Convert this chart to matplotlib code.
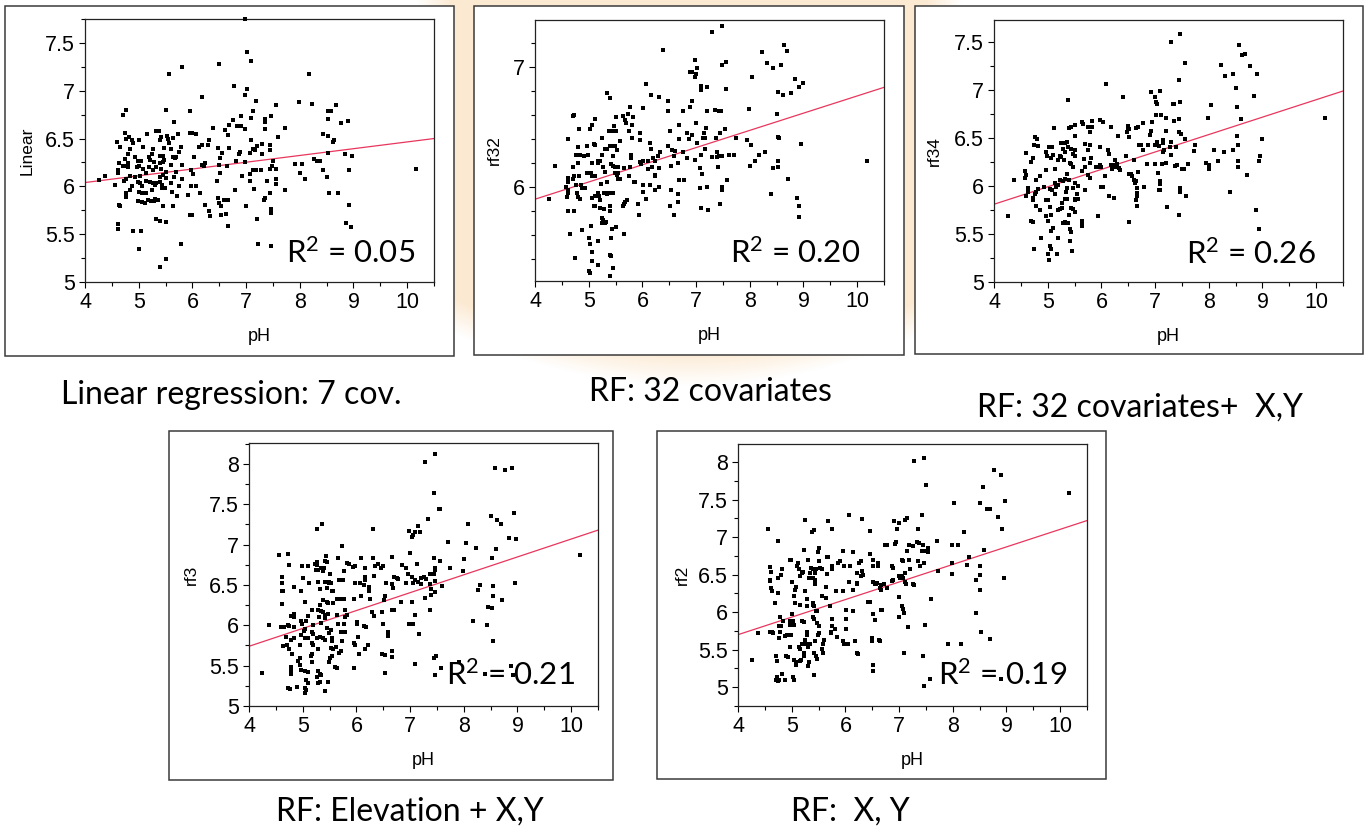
import numpy as np
import matplotlib.pyplot as plt
from matplotlib.ticker import MultipleLocator, FormatStrFormatter
from matplotlib.patches import Rectangle

W, H = 1366, 831

# (pH, predicted pH) pairs for each model
linear_pts = [(10.16,6.18),(8.98,6.32),(8.92,6.17),(8.92,5.81),(8.86,5.62),(8.95,5.57),(8.89,6.68),(8.84,6.34),(8.76,6.66),(8.68,6.85),(8.52,6.79),(8.58,6.79),(8.52,6.70),(8.52,6.53),(8.44,6.55),(8.61,6.46),(8.63,6.48),(8.52,6.35),(8.44,6.17),(8.50,6.10),(8.55,5.93),(8.71,5.93),(8.27,6.29),(8.33,6.27),(8.38,6.26),(8.22,6.86),(8.17,7.17),(7.98,6.88),(7.92,6.23),(8.04,6.23),(8.01,6.14),(8.09,6.08),(7.72,6.61),(7.73,5.96),(7.60,6.52),(7.55,6.85),(7.47,6.74),(7.36,6.70),(7.36,6.67),(7.36,6.60),(7.44,6.43),(7.44,6.38),(7.51,6.26),(7.48,6.21),(7.45,6.18),(7.55,6.18),(7.56,6.08),(7.55,6.02),(7.39,6.06),(7.44,5.93),(7.36,5.88),(7.33,5.86),(7.47,5.76),(7.47,5.72),(7.47,5.38),(7.22,5.40),(7.20,5.66),(7.29,6.44),(7.29,6.34),(7.20,6.42),(7.13,6.17),(7.19,6.17),(7.28,6.17),(7.19,6.89),(7.13,6.79),(7.10,6.72),(7.10,6.49),(7.13,6.39),(7.08,6.35),(7.16,6.38),(7.08,6.13),(7.07,6.06),(7.15,5.97),(7.01,7.40),(7.10,7.31),(6.98,7.75),(7.02,7.02),(6.98,6.96),(6.98,6.60),(6.91,6.74),(6.84,6.63),(6.91,6.63),(6.89,6.36),(6.86,6.34),(6.98,6.25),(6.93,6.11),(7.00,5.79),(6.77,7.05),(6.76,6.69),(6.68,6.64),(6.61,6.59),(6.66,6.54),(6.68,6.40),(6.56,6.35),(6.82,6.26),(6.65,6.21),(6.80,5.96),(6.59,5.86),(6.66,5.86),(6.63,5.71),(6.66,5.59),(6.49,7.28),(6.39,6.61),(6.48,6.40),(6.52,6.30),(6.50,6.22),(6.52,6.14),(6.45,6.06),(6.48,5.88),(6.50,5.83),(6.53,5.79),(6.53,5.70),(6.31,6.49),(6.29,6.43),(6.24,6.24),(6.17,6.22),(6.22,6.21),(6.23,5.81),(6.31,5.74),(6.32,5.69),(6.15,5.93),(6.17,6.93),(6.17,6.43),(6.12,6.41),(6.07,6.55),(6.00,6.56),(5.95,6.56),(6.03,6.31),(5.97,6.17),(6.01,6.13),(5.98,6.00),(6.07,6.00),(5.95,5.70),(6.00,5.70),(5.95,6.79),(5.81,7.25),(5.74,6.55),(5.78,6.41),(5.76,6.36),(5.70,6.31),(5.80,6.22),(5.81,6.08),(5.76,6.00),(5.92,5.91),(5.72,5.90),(5.78,5.40),(5.57,7.17),(5.50,6.80),(5.66,6.67),(5.55,6.50),(5.63,6.51),(5.52,6.53),(5.56,6.45),(5.60,6.39),(5.63,6.31),(5.67,6.30),(5.61,6.22),(5.69,6.15),(5.66,6.10),(5.61,6.03),(5.62,5.94),(5.64,5.79),(5.46,5.79),(5.50,5.63),(5.50,5.24),(5.39,5.16),(5.38,6.58),(5.32,6.58),(5.41,6.52),(5.39,6.48),(5.47,6.40),(5.39,6.32),(5.45,6.32),(5.48,6.28),(5.39,6.24),(5.46,6.25),(5.41,6.18),(5.50,6.15),(5.39,6.10),(5.46,6.12),(5.50,6.09),(5.39,6.05),(5.43,6.01),(5.49,5.98),(5.44,5.98),(5.33,6.03),(5.30,5.87),(5.36,5.86),(5.29,5.85),(5.33,5.66),(5.39,5.64),(5.27,6.39),(5.24,6.34),(5.19,6.31),(5.21,6.28),(5.28,6.25),(5.33,6.20),(5.20,6.20),(5.26,6.17),(5.21,6.05),(5.27,6.04),(5.31,6.01),(5.24,5.96),(5.18,5.86),(5.23,5.85),(5.16,6.55),(5.08,6.41),(5.05,6.27),(5.08,6.18),(5.13,6.14),(5.13,6.06),(5.07,6.00),(5.07,5.93),(5.13,5.93),(5.07,5.84),(5.11,5.83),(5.04,5.53),(5.01,5.34),(4.98,5.85),(5.01,5.94),(4.93,6.31),(4.98,6.27),(5.01,6.21),(4.96,6.20),(5.02,6.11),(4.93,6.10),(4.99,6.05),(5.02,6.03),(5.01,6.49),(4.90,6.45),(4.87,6.00),(4.89,5.53),(4.82,6.52),(4.87,6.48),(4.84,6.39),(4.80,6.34),(4.80,6.24),(4.80,6.20),(4.84,6.11),(4.77,6.80),(4.70,6.75),(4.74,6.56),(4.76,6.50),(4.74,6.29),(4.70,6.21),(4.77,6.21),(4.72,6.06),(4.77,6.08),(4.77,5.93),(4.76,5.89),(4.84,5.96),(4.65,6.41),(4.59,6.46),(4.63,6.24),(4.62,6.17),(4.62,6.14),(4.56,6.01),(4.63,5.81),(4.66,5.79),(4.61,5.61),(4.61,5.55),(4.37,6.11),(4.26,6.07)]

rf32_pts = [(10.18,6.22),(8.96,6.36),(8.99,6.87),(8.91,6.83),(8.84,6.90),(8.92,5.84),(8.92,5.75),(8.88,5.91),(8.72,6.07),(8.77,6.78),(8.63,7.18),(8.69,7.13),(8.58,7.02),(8.61,6.77),(8.52,6.79),(8.50,6.61),(8.53,6.42),(8.55,6.41),(8.52,6.22),(8.53,6.17),(8.44,6.16),(8.44,6.99),(8.32,7.03),(8.23,7.12),(8.29,6.29),(8.18,6.27),(8.10,6.22),(8.01,6.18),(8.02,6.35),(7.94,6.39),(7.99,6.65),(8.04,6.92),(8.39,5.94),(7.75,6.41),(7.71,6.27),(7.62,6.27),(7.57,6.06),(7.56,6.82),(7.55,7.04),(7.48,7.02),(7.48,7.34),(7.29,7.29),(7.53,6.48),(7.45,6.45),(7.46,6.63),(7.35,6.64),(7.43,6.63),(7.37,6.41),(7.39,6.29),(7.39,6.25),(7.48,6.26),(7.43,6.26),(7.41,6.17),(7.29,6.25),(7.48,6.00),(7.48,5.98),(7.45,5.86),(7.21,6.83),(7.09,6.84),(7.09,6.81),(7.20,6.63),(7.18,6.49),(7.14,6.45),(7.12,6.41),(7.17,6.41),(7.09,6.27),(7.16,6.32),(7.07,6.16),(7.11,6.11),(7.07,5.99),(7.21,6.00),(7.09,5.83),(7.23,5.81),(6.98,7.06),(7.01,6.99),(7.00,6.94),(6.98,6.92),(6.89,6.96),(6.92,6.96),(6.93,6.72),(6.89,6.67),(7.00,6.53),(6.93,6.43),(7.01,6.37),(6.98,6.23),(6.83,6.45),(6.86,6.40),(6.83,6.24),(6.75,6.63),(6.69,6.52),(6.68,6.40),(6.75,6.29),(6.67,6.20),(6.69,6.06),(6.78,6.06),(6.66,5.94),(6.66,5.88),(6.58,5.77),(6.52,5.84),(6.53,5.98),(6.48,6.72),(6.48,6.63),(6.52,6.47),(6.47,6.34),(6.55,6.31),(6.61,6.30),(6.58,6.26),(6.53,6.18),(6.39,7.14),(6.31,6.75),(6.16,6.77),(6.07,6.86),(6.01,6.66),(5.96,6.45),(5.96,6.39),(6.14,6.37),(6.16,6.32),(6.33,6.29),(6.29,6.26),(6.20,6.24),(6.24,6.22),(6.11,6.22),(6.02,6.22),(5.96,6.21),(5.98,6.19),(6.11,6.15),(6.17,6.17),(6.31,6.16),(6.24,6.10),(6.24,6.09),(6.14,6.02),(6.02,6.02),(6.02,5.96),(6.24,5.98),(6.31,6.00),(6.07,5.90),(5.91,5.86),(5.94,5.77),(5.85,6.04),(5.77,6.67),(5.73,6.61),(5.82,6.58),(5.70,6.53),(5.80,6.52),(5.75,6.47),(5.80,6.41),(5.63,6.59),(5.51,6.58),(5.68,6.56),(5.47,6.51),(5.45,6.47),(5.50,6.47),(5.35,6.78),(5.40,6.74),(5.37,6.47),(5.58,6.38),(5.40,6.34),(5.44,6.34),(5.30,6.32),(5.35,6.32),(5.49,6.34),(5.52,6.31),(5.78,6.27),(5.78,6.24),(5.46,6.26),(5.77,6.17),(5.75,6.09),(5.86,6.04),(5.65,6.16),(5.42,6.19),(5.46,6.18),(5.49,6.17),(5.52,6.17),(5.55,6.17),(5.49,6.12),(5.55,6.12),(5.52,6.10),(5.58,6.07),(5.54,6.07),(5.30,6.13),(5.27,6.17),(5.21,6.22),(5.25,6.27),(5.25,6.41),(5.34,6.04),(5.18,6.20),(5.17,6.22),(5.29,5.95),(5.33,5.95),(5.35,5.94),(5.40,5.95),(5.46,5.95),(5.23,6.03),(5.19,5.93),(5.21,5.89),(5.18,5.95),(5.12,5.84),(5.21,5.83),(5.29,5.82),(5.40,5.84),(5.39,5.80),(5.25,5.74),(5.27,5.73),(5.30,5.70),(5.25,5.70),(5.32,5.71),(5.63,5.84),(5.66,5.86),(5.71,5.89),(5.68,5.88),(5.44,5.65),(5.50,5.67),(5.42,5.58),(5.65,5.61),(5.18,5.55),(5.04,5.68),(4.88,5.64),(5.00,5.58),(5.03,5.53),(5.07,5.46),(5.07,5.39),(5.18,5.35),(5.00,5.30),(5.03,5.29),(5.40,5.44),(5.42,5.43),(5.45,5.33),(5.40,5.26),(4.75,5.41),(4.66,5.61),(5.09,5.84),(5.11,5.93),(5.07,5.91),(5.12,6.09),(5.07,6.09),(5.04,6.12),(5.06,6.20),(5.11,6.35),(5.09,6.36),(5.11,6.57),(5.07,6.52),(5.02,6.48),(4.92,6.26),(4.98,6.27),(4.96,6.34),(4.96,6.12),(4.86,6.02),(4.87,5.99),(4.93,5.99),(4.82,6.48),(4.81,6.33),(4.84,6.27),(4.80,6.20),(4.76,6.27),(4.71,6.17),(4.73,6.09),(4.71,6.07),(4.82,6.09),(4.78,5.95),(4.81,5.92),(4.84,5.90),(4.76,6.02),(4.73,6.60),(4.70,6.59),(4.61,6.40),(4.61,6.08),(4.62,6.04),(4.57,6.00),(4.62,5.98),(4.59,5.92),(4.62,5.95),(4.62,5.80),(4.73,5.80),(4.37,6.18),(4.26,5.90)]

rf34_pts = [(10.17,6.71),(8.99,6.49),(8.96,6.31),(8.93,6.26),(8.93,5.55),(8.88,5.75),(8.90,7.17),(8.85,6.94),(8.77,7.25),(8.71,6.11),(8.68,7.38),(8.62,7.37),(8.57,7.47),(8.60,6.70),(8.55,6.43),(8.52,6.52),(8.53,6.82),(8.51,7.02),(8.45,6.38),(8.54,6.26),(8.54,6.20),(8.45,7.17),(8.31,7.15),(8.23,7.26),(8.28,6.35),(8.17,6.26),(8.09,6.38),(8.04,6.84),(7.98,6.71),(8.01,6.22),(8.01,6.18),(7.94,6.24),(8.39,5.94),(7.75,6.43),(7.72,6.37),(7.61,6.23),(7.58,5.90),(7.55,7.28),(7.47,7.58),(7.29,7.50),(7.45,7.10),(7.47,6.88),(7.36,6.85),(7.33,6.85),(7.45,6.70),(7.36,6.68),(7.45,6.56),(7.48,6.54),(7.55,6.49),(7.39,6.41),(7.30,6.46),(7.30,6.32),(7.38,6.21),(7.41,6.22),(7.50,6.18),(7.54,6.18),(7.47,5.98),(7.47,5.94),(7.44,5.70),(7.23,5.78),(7.21,6.71),(7.11,6.74),(7.02,6.74),(7.10,6.99),(6.92,6.98),(7.00,6.93),(7.02,6.88),(7.04,6.85),(6.95,6.67),(7.21,6.57),(7.15,6.48),(7.15,6.45),(7.04,6.46),(7.08,6.42),(6.99,6.43),(7.17,6.38),(7.15,6.35),(7.27,6.41),(7.12,6.23),(6.99,6.23),(6.85,6.23),(7.20,6.24),(7.06,6.14),(7.10,6.05),(7.10,6.02),(7.07,5.96),(7.10,5.96),(6.80,5.99),(6.93,6.57),(6.90,6.53),(6.87,6.43),(6.77,6.66),(6.68,6.61),(6.70,6.43),(6.73,6.43),(6.77,6.38),(6.68,6.15),(6.61,6.27),(6.65,6.05),(6.62,6.03),(6.67,5.98),(6.66,5.93),(6.66,5.90),(6.64,5.85),(6.66,5.79),(6.56,6.13),(6.51,6.13),(6.57,6.10),(6.60,6.06),(6.49,6.63),(6.49,6.60),(6.52,6.59),(6.48,6.56),(6.51,6.51),(6.45,6.31),(6.65,6.60),(6.51,5.63),(6.40,6.93),(6.31,6.52),(6.25,6.27),(6.28,6.20),(6.32,6.19),(6.34,6.17),(6.20,6.18),(6.17,6.22),(6.25,6.22),(6.30,6.23),(6.15,6.33),(6.12,6.38),(6.18,6.62),(6.08,7.06),(6.06,6.10),(6.15,5.90),(6.23,5.88),(6.03,5.99),(6.00,5.99),(5.98,6.69),(6.03,6.67),(5.97,6.41),(5.97,6.22),(6.00,6.20),(5.90,6.20),(5.95,6.20),(5.94,5.69),(5.83,6.68),(5.75,6.61),(5.83,6.61),(5.78,6.56),(5.79,6.43),(5.70,6.44),(5.75,6.38),(5.80,6.29),(5.67,6.28),(5.78,6.24),(5.69,6.20),(5.76,6.11),(5.78,6.08),(5.63,6.16),(5.66,6.65),(5.63,6.67),(5.69,5.96),(5.63,5.64),(5.64,5.60),(5.64,5.58),(5.54,5.92),(5.56,6.00),(5.50,6.03),(5.47,5.98),(5.50,5.85),(5.51,5.86),(5.56,5.87),(5.50,6.64),(5.50,6.52),(5.44,6.61),(5.40,6.60),(5.38,6.90),(5.43,6.39),(5.38,6.41),(5.51,6.38),(5.48,6.33),(5.50,6.31),(5.41,6.24),(5.44,6.23),(5.47,6.20),(5.36,6.46),(5.33,6.45),(5.25,6.45),(5.28,6.39),(5.32,6.35),(5.25,6.30),(5.30,6.27),(5.20,6.27),(5.22,6.31),(5.36,6.13),(5.40,6.06),(5.32,6.07),(5.28,6.05),(5.22,6.06),(5.19,6.01),(5.16,5.99),(5.13,6.03),(5.36,5.98),(5.35,5.94),(5.44,5.77),(5.47,5.76),(5.51,5.73),(5.36,5.87),(5.32,5.86),(5.27,5.82),(5.27,5.77),(5.22,5.76),(5.19,5.75),(5.40,5.70),(5.32,5.62),(5.28,5.61),(5.35,5.61),(5.38,5.61),(5.41,5.55),(5.43,5.52),(5.41,5.43),(5.45,5.32),(5.19,5.46),(5.18,5.29),(5.11,6.60),(5.08,6.41),(5.02,6.41),(5.10,6.32),(5.07,6.29),(4.97,6.35),(4.99,6.31),(5.13,6.18),(4.97,6.17),(4.94,5.99),(5.05,5.97),(5.08,5.96),(4.97,5.85),(5.00,5.85),(5.13,5.92),(5.05,5.78),(4.96,5.69),(5.00,5.64),(5.07,5.70),(5.10,5.56),(5.07,5.53),(5.04,5.37),(5.07,5.34),(5.00,5.29),(5.02,5.23),(4.88,5.46),(4.85,5.75),(4.76,6.51),(4.81,6.49),(4.74,6.43),(4.82,6.42),(4.73,6.29),(4.68,6.25),(4.85,6.10),(4.78,6.06),(4.82,5.97),(4.79,5.94),(4.76,5.92),(4.73,5.88),(4.73,5.85),(4.79,5.79),(4.68,5.64),(4.73,5.63),(4.75,5.34),(4.60,6.34),(4.57,6.16),(4.60,6.11),(4.58,6.08),(4.63,5.98),(4.63,5.94),(4.60,5.90),(4.37,6.06),(4.26,5.69)]

rf3_pts = [(10.16,6.87),(8.98,7.07),(8.94,7.39),(8.95,6.53),(8.90,7.95),(8.76,7.93),(8.58,7.95),(8.85,7.08),(8.69,7.26),(8.62,7.31),(8.50,7.36),(8.60,6.95),(8.53,6.83),(8.54,6.49),(8.54,6.36),(8.52,6.21),(8.45,6.23),(8.44,6.00),(8.55,5.81),(8.71,6.31),(8.88,5.49),(8.92,5.38),(8.39,5.40),(8.30,6.50),(8.27,6.44),(8.22,6.96),(8.08,7.26),(8.05,7.02),(8.01,6.82),(7.98,6.67),(8.17,6.05),(7.91,5.54),(7.74,6.71),(7.71,7.03),(7.60,6.49),(7.55,6.80),(7.47,8.12),(7.28,8.02),(7.44,7.64),(7.54,7.44),(7.55,7.44),(7.34,7.32),(7.45,6.84),(7.47,6.71),(7.47,6.69),(7.38,6.64),(7.44,6.64),(7.47,6.55),(7.38,6.51),(7.39,6.45),(7.46,6.41),(7.39,6.38),(7.28,6.34),(7.37,6.19),(7.45,5.60),(7.49,5.62),(7.47,5.38),(7.57,5.47),(7.15,7.23),(7.10,7.16),(7.18,7.16),(7.06,7.12),(6.98,7.17),(7.03,7.09),(7.00,6.90),(7.12,6.76),(7.04,6.60),(7.10,6.56),(7.06,6.53),(7.21,6.59),(7.26,6.60),(7.29,6.58),(7.15,6.54),(7.20,6.51),(6.98,6.02),(7.01,6.02),(7.06,6.02),(7.10,6.13),(7.16,5.89),(7.09,5.52),(6.85,6.75),(6.92,6.71),(6.97,6.64),(6.92,6.53),(6.78,6.58),(6.84,6.29),(7.03,6.29),(6.67,6.85),(6.70,6.60),(6.76,6.59),(6.66,6.51),(6.69,6.46),(6.70,6.19),(6.67,6.19),(6.66,5.68),(6.67,5.61),(6.46,6.71),(6.50,6.73),(6.56,6.53),(6.53,6.36),(6.52,6.32),(6.47,6.17),(6.50,6.02),(6.58,5.92),(6.59,5.87),(6.48,5.65),(6.53,5.63),(6.53,5.41),(6.31,7.19),(6.31,6.83),(6.34,6.73),(6.40,6.76),(6.33,6.61),(6.24,6.48),(6.23,6.42),(6.25,6.33),(6.29,6.16),(6.33,6.12),(6.16,6.71),(6.16,6.60),(6.16,6.56),(6.14,6.50),(6.08,6.84),(6.08,6.36),(6.14,5.99),(6.17,5.98),(6.22,5.76),(6.16,5.71),(6.05,5.65),(6.02,6.04),(6.02,6.02),(6.03,5.85),(5.97,6.73),(5.94,6.72),(5.97,6.52),(5.96,6.33),(6.07,6.52),(5.95,5.78),(5.97,5.76),(5.95,5.47),(5.82,6.77),(5.86,6.76),(5.74,6.98),(5.77,6.67),(5.67,6.56),(5.76,6.56),(5.71,6.33),(5.77,6.33),(5.79,6.19),(5.82,6.13),(5.79,6.10),(5.77,6.02),(5.72,5.92),(5.79,5.92),(5.74,5.81),(5.72,5.68),(5.68,5.66),(5.66,6.83),(5.63,6.33),(5.65,6.33),(5.63,6.13),(5.65,6.02),(5.62,5.73),(5.57,5.71),(5.53,5.72),(5.61,5.48),(5.63,5.47),(5.54,6.42),(5.57,6.42),(5.51,6.64),(5.49,6.54),(5.52,6.52),(5.46,6.46),(5.41,6.54),(5.49,6.52),(5.46,6.79),(5.43,6.86),(5.41,6.80),(5.38,6.31),(5.45,6.29),(5.48,6.28),(5.57,6.28),(5.38,6.17),(5.41,6.13),(5.48,6.14),(5.41,6.09),(5.45,5.97),(5.49,5.91),(5.53,5.94),(5.54,5.84),(5.54,5.80),(5.51,5.60),(5.54,5.62),(5.49,5.54),(5.48,5.30),(5.41,5.19),(5.36,7.26),(5.26,7.19),(5.34,6.71),(5.40,6.71),(5.38,6.67),(5.27,6.78),(5.29,6.68),(5.29,6.54),(5.32,6.45),(5.32,6.25),(5.29,6.19),(5.34,6.18),(5.30,6.10),(5.34,6.03),(5.32,5.86),(5.38,5.84),(5.41,5.82),(5.26,5.84),(5.28,5.71),(5.29,5.43),(5.32,5.40),(5.35,5.38),(5.26,5.36),(5.29,5.29),(5.32,5.30),(5.23,6.76),(5.26,6.75),(5.24,6.69),(5.17,6.19),(5.20,6.00),(5.17,5.92),(5.20,5.89),(5.17,5.78),(5.20,5.76),(5.17,5.64),(5.15,5.62),(5.17,5.54),(5.09,6.73),(5.12,6.53),(5.05,6.29),(5.09,6.12),(5.07,6.05),(5.09,5.84),(5.04,5.95),(5.03,5.93),(5.01,6.59),(4.98,6.73),(4.97,6.43),(4.97,6.05),(4.99,6.02),(4.97,5.88),(5.04,5.84),(4.95,5.75),(4.95,5.60),(4.92,5.56),(4.95,5.51),(4.97,5.45),(5.04,5.43),(5.09,5.42),(5.07,5.32),(5.09,5.28),(5.04,5.22),(5.04,5.16),(5.07,5.20),(4.89,5.24),(4.83,6.47),(4.83,6.14),(4.84,6.10),(4.78,6.11),(4.83,5.98),(4.83,5.84),(4.78,5.82),(4.81,5.65),(4.78,5.48),(4.78,5.43),(4.79,5.40),(4.73,5.22),(4.76,5.21),(4.73,6.89),(4.74,6.75),(4.64,5.74),(4.70,5.76),(4.74,5.71),(4.72,6.00),(4.74,5.99),(4.61,6.60),(4.61,6.52),(4.62,6.43),(4.62,6.27),(4.64,6.43),(4.60,5.98),(4.66,5.98),(4.68,5.86),(4.56,6.87),(4.37,6.00),(4.25,5.41)]

rf2_pts = [(10.16,7.59),(8.98,7.48),(8.92,7.11),(8.95,6.46),(8.89,7.83),(8.76,7.89),(8.84,7.27),(8.64,7.37),(8.69,7.37),(8.56,7.67),(8.51,7.46),(8.59,6.83),(8.50,6.61),(8.51,6.49),(8.50,6.30),(8.44,6.43),(8.43,5.99),(8.53,5.74),(8.70,5.64),(8.90,5.11),(8.30,6.73),(8.27,6.63),(8.21,7.07),(8.02,7.46),(7.99,6.90),(8.09,6.90),(7.98,6.66),(7.99,6.51),(8.16,5.57),(7.91,5.57),(7.70,6.95),(7.73,6.55),(7.59,6.18),(7.46,8.06),(7.28,8.02),(7.51,7.69),(7.43,7.30),(7.36,7.11),(7.33,6.94),(7.38,6.92),(7.26,6.88),(7.19,6.89),(7.45,6.90),(7.42,6.81),(7.48,6.81),(7.54,6.85),(7.54,6.80),(7.36,6.68),(7.46,6.66),(7.39,6.61),(7.20,6.57),(7.25,6.38),(7.28,6.36),(7.48,5.83),(7.44,5.41),(7.46,5.02),(7.57,5.11),(7.17,5.80),(7.09,5.46),(7.14,7.25),(7.11,7.23),(7.19,6.69),(7.14,6.82),(7.08,6.68),(7.06,6.70),(7.11,6.52),(7.05,6.48),(7.08,6.46),(7.11,6.40),(7.13,6.38),(7.06,6.08),(7.08,6.04),(7.10,5.99),(7.00,6.48),(7.02,6.46),(7.00,5.93),(7.00,6.20),(6.91,7.21),(7.00,7.19),(6.97,7.11),(6.95,6.94),(6.92,6.91),(6.89,6.43),(6.86,6.41),(6.86,6.61),(6.89,6.59),(6.74,6.90),(6.77,6.90),(6.78,6.32),(6.71,6.38),(6.66,6.36),(6.64,6.32),(6.67,6.30),(6.58,6.39),(6.57,6.37),(6.69,6.03),(6.66,6.03),(6.61,6.65),(6.60,6.61),(6.63,5.63),(6.64,5.61),(6.55,5.89),(6.51,5.97),(6.46,7.08),(6.51,6.70),(6.51,6.61),(6.46,6.13),(6.49,5.65),(6.49,5.61),(6.52,5.30),(6.52,5.21),(6.51,6.40),(6.55,6.38),(6.31,7.24),(6.29,6.68),(6.26,6.66),(6.31,6.55),(6.32,6.49),(6.29,6.48),(6.22,6.52),(6.22,6.39),(6.21,6.37),(6.45,6.77),(6.42,6.14),(6.18,5.61),(6.21,5.45),(6.24,5.44),(6.07,7.29),(6.15,6.80),(6.09,6.61),(6.07,6.40),(6.14,6.30),(6.02,6.03),(6.02,5.91),(6.02,5.78),(6.04,5.58),(6.15,6.01),(5.96,6.82),(5.98,6.61),(5.95,6.28),(5.95,5.61),(5.98,5.57),(5.90,6.68),(5.87,6.66),(5.83,6.28),(5.76,5.91),(5.75,5.82),(5.80,5.77),(5.84,5.67),(5.73,5.74),(5.73,5.72),(5.76,6.61),(5.76,6.58),(5.72,6.08),(5.67,7.21),(5.75,7.11),(5.67,6.74),(5.65,6.74),(5.65,6.51),(5.64,6.34),(5.63,6.19),(5.57,6.22),(5.56,6.58),(5.52,6.59),(5.61,5.63),(5.59,5.57),(5.56,5.51),(5.58,5.45),(5.50,6.86),(5.49,6.80),(5.50,6.68),(5.46,6.57),(5.44,6.52),(5.44,6.43),(5.44,6.38),(5.39,6.12),(5.41,6.08),(5.46,6.01),(5.48,6.01),(5.39,5.93),(5.42,5.91),(5.47,5.85),(5.50,5.82),(5.51,5.72),(5.49,5.70),(5.44,5.61),(5.41,5.45),(5.45,5.42),(5.47,5.38),(5.42,5.16),(5.34,5.57),(5.31,5.54),(5.33,5.34),(5.31,5.28),(5.37,7.07),(5.41,7.09),(5.36,6.59),(5.39,6.58),(5.34,6.52),(5.33,6.46),(5.39,6.45),(5.31,6.70),(5.28,6.17),(5.28,6.08),(5.39,6.10),(5.42,6.08),(5.25,7.23),(5.23,6.83),(5.21,6.54),(5.19,6.52),(5.24,6.28),(5.28,5.74),(5.29,5.69),(5.22,5.87),(5.19,5.88),(5.25,5.63),(5.27,5.57),(5.22,5.45),(5.23,5.42),(5.20,5.57),(5.17,5.36),(5.15,5.35),(5.13,5.54),(5.16,5.51),(5.08,5.34),(5.08,5.30),(5.15,6.10),(5.10,6.61),(5.14,6.58),(5.06,6.29),(5.05,6.22),(5.08,6.33),(5.11,6.66),(5.15,6.48),(4.96,6.70),(4.98,6.70),(5.00,6.40),(5.06,6.12),(5.00,5.97),(5.03,5.88),(5.05,5.83),(4.96,5.88),(4.97,5.83),(4.98,5.70),(4.92,5.70),(4.88,5.68),(4.97,5.53),(5.05,5.36),(5.05,5.10),(5.03,5.13),(4.94,5.40),(4.90,5.42),(4.88,5.10),(4.82,5.17),(4.82,6.57),(4.80,6.49),(4.79,5.93),(4.83,5.88),(4.80,5.81),(4.76,5.82),(4.79,5.73),(4.77,5.65),(4.72,5.35),(4.71,5.41),(4.72,5.14),(4.74,5.08),(4.71,5.10),(4.77,5.10),(4.74,6.95),(4.74,6.46),(4.74,6.25),(4.69,6.12),(4.63,5.74),(4.65,5.72),(4.60,5.74),(4.61,6.54),(4.60,6.43),(4.59,6.41),(4.61,6.32),(4.63,6.28),(4.60,6.60),(4.55,7.11),(4.37,5.72),(4.26,5.36)]

# fitted line: prediction at pH 4 and at pH 10.5
fit_x = [4, 10.5]
linear_fit = [6.04, 6.50]
rf32_fit = [5.90, 6.83]
rf34_fit = [5.81, 6.99]
rf3_fit = [5.74, 7.18]
rf2_fit = [5.70, 7.22]

r2_values = ['0.05', '0.20', '0.26', '0.21', '0.19']
y_labels = ['Linear', 'rf32', 'rf34', 'rf3', 'rf2']
captions = ['Linear regression: 7 cov.', 'RF: 32 covariates',
            'RF: 32 covariates+  X,Y', 'RF: Elevation + X,Y', 'RF:  X, Y']

# layout in pixels: plot area, outer frame, caption centre, R2 anchor, ylabel x
panels = [
    dict(pts=linear_pts, fit=linear_fit, ylim=(5, 7.75), ymaj=0.5, ymin=0.25,
         area=(85, 19, 434, 282), frame=(5, 6, 454, 356), cap=(231, 395),
         r2=(0.945, 0.072), ylab=-0.166),
    dict(pts=rf32_pts, fit=rf32_fit, ylim=(5.22, 7.39), ymaj=1.0, ymin=0.2,
         area=(535, 20, 884, 281), frame=(474, 6, 904, 355), cap=(710, 392),
         r2=(0.931, 0.068), ylab=-0.115),
    dict(pts=rf34_pts, fit=rf34_fit, ylim=(5, 7.73), ymaj=0.5, ymin=0.25,
         area=(994, 20, 1343, 282), frame=(915, 6, 1363, 354), cap=(1140, 408),
         r2=(0.921, 0.070), ylab=-0.170),
    dict(pts=rf3_pts, fit=rf3_fit, ylim=(5, 8.26), ymaj=0.5, ymin=0.25,
         area=(249, 443, 598, 706), frame=(169, 431, 613, 780), cap=(410, 812),
         r2=(0.935, 0.080), ylab=-0.164),
    dict(pts=rf2_pts, fit=rf2_fit, ylim=(4.75, 8.24), ymaj=0.5, ymin=0.25,
         area=(738, 444, 1087, 706), frame=(657, 431, 1106, 779), cap=(850, 812),
         r2=(0.943, 0.080), ylab=-0.160),
]

plt.rcParams['font.family'] = 'Liberation Sans'
plt.rcParams['mathtext.fontset'] = 'custom'
plt.rcParams['mathtext.rm'] = 'Lato'
plt.rcParams['mathtext.it'] = 'Lato:italic'
plt.rcParams['mathtext.bf'] = 'Lato:bold'

fig = plt.figure(figsize=(W / 100, H / 100), dpi=100)
fig.patch.set_facecolor('white')

# pale peach backdrop behind the top row, rounded at the bottom
bg = fig.add_axes([0, 0, 1, 1], zorder=-3)
gy, gx = np.mgrid[0:H:2, 0:W:2].astype(float)
dx = np.abs(gx - 688)
side = np.clip((272 - dx) / 35.0, 0, 1)
bottom_edge = 385 - 70 * (dx / 272.0) ** 2
lower = np.clip((bottom_edge - gy) / 35.0, 0, 1)
glow = np.zeros(gx.shape + (4,))
glow[..., 0] = 0.98
glow[..., 1] = 0.85
glow[..., 2] = 0.68
glow[..., 3] = 0.55 * side * lower
bg.imshow(glow, extent=(0, W, H, 0), aspect='auto', interpolation='bilinear')
bg.set_xlim(0, W)
bg.set_ylim(H, 0)
bg.axis('off')

for i, p in enumerate(panels):
    fl, ft, fr, fb = p['frame']
    fig.patches.append(Rectangle((fl / W, 1 - fb / H), (fr - fl) / W, (fb - ft) / H,
                                 transform=fig.transFigure, facecolor='white',
                                 edgecolor='#3a3a3a', lw=1.1, zorder=-2))

    l, t, rgt, b = p['area']
    ax = fig.add_axes([l / W, 1 - b / H, (rgt - l) / W, (b - t) / H])
    x, y = np.array(p['pts']).T
    ax.scatter(x, y, s=9, marker='s', c='black', linewidths=0, zorder=3, clip_on=False)
    ax.plot(fit_x, p['fit'], color='#e8365d', lw=0.9, zorder=2)

    ax.set_xlim(4, 10.5)
    ax.set_ylim(*p['ylim'])
    ax.xaxis.set_major_locator(MultipleLocator(1))
    ax.xaxis.set_minor_locator(MultipleLocator(0.5))
    ax.yaxis.set_major_locator(MultipleLocator(p['ymaj']))
    ax.yaxis.set_minor_locator(MultipleLocator(p['ymin']))
    ax.xaxis.set_major_formatter(FormatStrFormatter('%g'))
    ax.yaxis.set_major_formatter(FormatStrFormatter('%g'))
    ax.tick_params(which='major', length=4.5, width=0.8, labelsize=15.5, pad=3)
    ax.tick_params(which='minor', length=2.8, width=0.8)
    for s in ax.spines.values():
        s.set_linewidth(0.9)
        s.set_color('#222222')

    ax.text(0.5, -46 / (b - t), 'pH', transform=ax.transAxes, ha='center',
            va='top', fontsize=13)
    ax.text(p['ylab'], 0.5, y_labels[i], transform=ax.transAxes, rotation=90,
            ha='center', va='center', fontsize=12.5)
    ax.text(p['r2'][0], p['r2'][1], 'R$^{2}$ = ' + r2_values[i], transform=ax.transAxes,
            ha='right', va='baseline', fontsize=22.5, family='Lato', zorder=1)

    fig.text(p['cap'][0] / W, 1 - p['cap'][1] / H, captions[i], ha='center',
             va='center', fontsize=23, family='Lato')

fig.savefig('out.png', dpi=100)
